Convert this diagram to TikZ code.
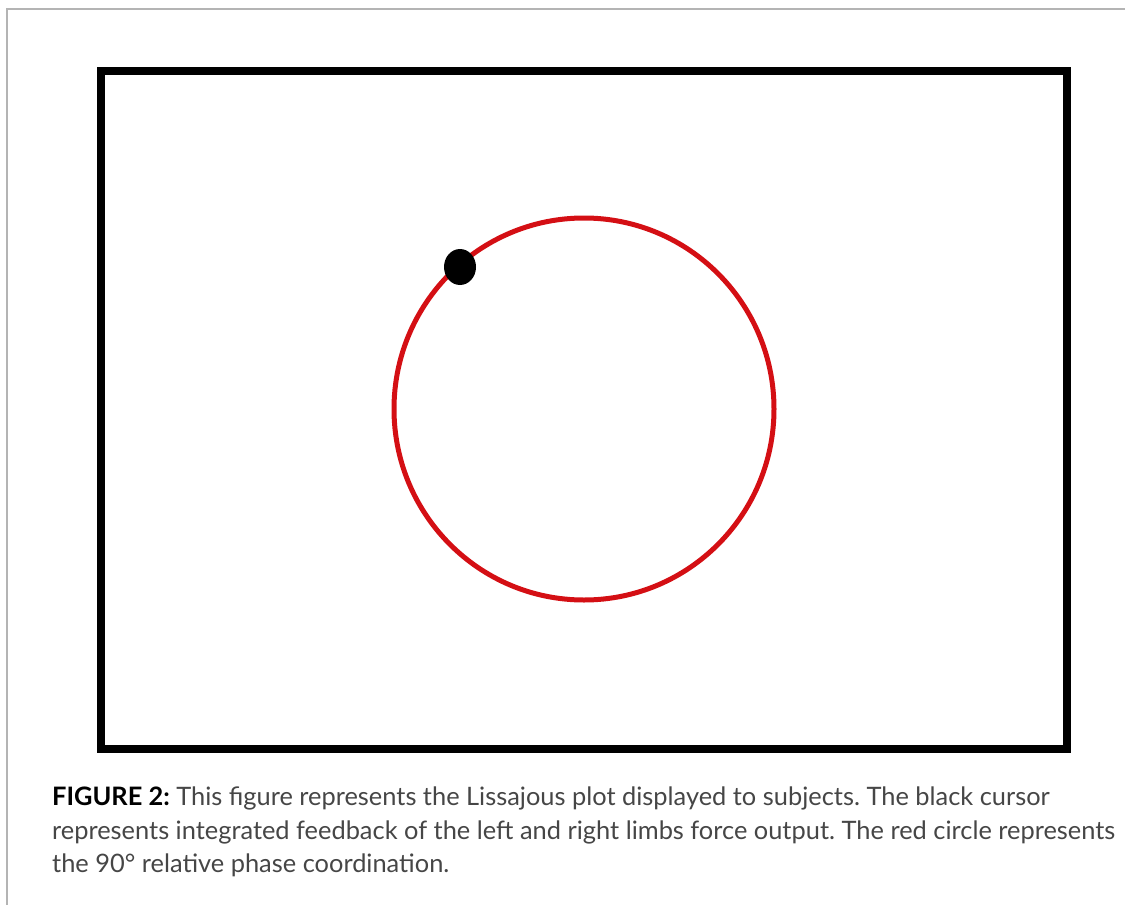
\documentclass[tikz,border=0pt]{standalone}
\usepackage{fontspec}
\setmainfont{Lato}
\usepackage{tikz}
\usepackage[dvipsnames]{xcolor}

\definecolor{plotred}{HTML}{D40F14}
\definecolor{captiongray}{HTML}{464646}
\definecolor{panelgray}{HTML}{B4B4B4}

\begin{document}
\frenchspacing
\begin{tikzpicture}[x=1pt, y=-1pt]
	\useasboundingbox (0,0) rectangle (1125,905);
	% Panel edge
	\draw[panelgray, line width=2pt] (7,905) -- (7,9) -- (1125,9);
	% Screen frame
	\draw[black, line width=8pt] (101,71) rectangle (1067,749);
	% Lissajous target (90 deg relative phase)
	\draw[plotred, line width=5pt] (584,409) circle[x radius=190, y radius=191];
	% Cursor
	\fill[black] (460,267) circle[x radius=16, y radius=18];
	% Caption
	\node[anchor=north west, align=left, inner sep=0pt, font=\fontsize{25.4}{33.5}\selectfont, text=captiongray] (caption) at (52,787)
		{{\bfseries\color{black}FIGURE 2:} This figure represents the Lissajous plot displayed to subjects. The black cursor\\
		represents integrated feedback of the left and right limbs force output. The red circle represents\\
		the 90\textdegree{} relative phase coordination.};
\end{tikzpicture}
\end{document}
